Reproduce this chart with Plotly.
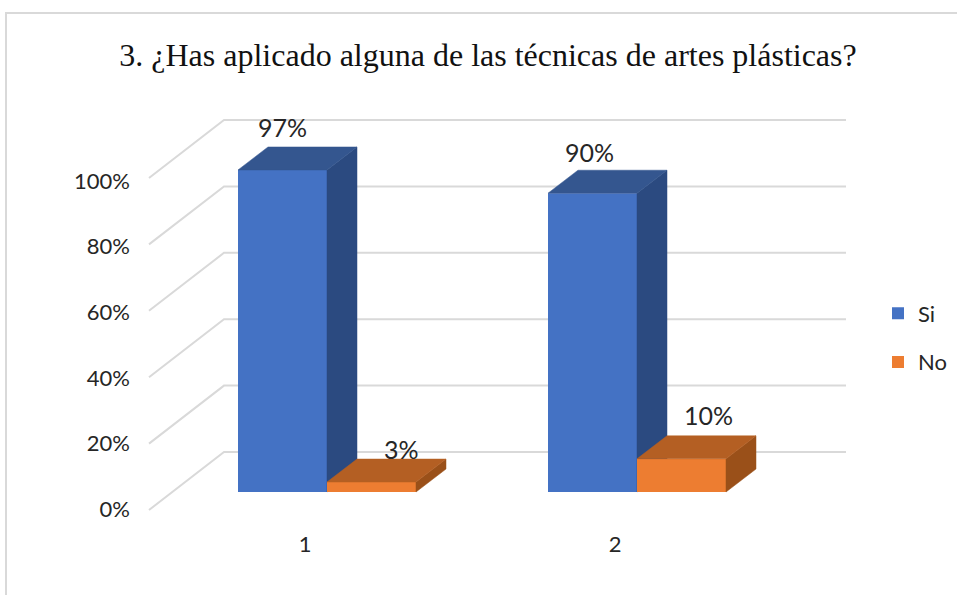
import plotly.graph_objects as go

TITLE = "3. ¿Has aplicado alguna de las técnicas de artes plásticas?"
categories = [1, 2]
si_values = [97, 90]
no_values = [3, 10]
y_ticks = [0, 20, 40, 60, 80, 100]

WIDTH, HEIGHT = 957, 595
PX_PER_CAT = 310
PX_PER_PCT = 3.32
AXIS_LEFT = 131
AXIS_BOTTOM = 525

BAR_W = 89 / PX_PER_CAT
DEPTH_X = 30 / PX_PER_CAT
DEPTH_Y = 23 / PX_PER_PCT

GRID = "#D9D9D9"
TEXT = "#262626"
BAR_FONT = "Lato"


def px_x(px):
    return 1 + (px - 327) / PX_PER_CAT


def px_y(px):
    return (492 - px) / PX_PER_PCT


def faces(left, value):
    """top and side polygons of a bar whose front face starts at left"""
    right = left + BAR_W
    top_x = [left, right, right + DEPTH_X, left + DEPTH_X, left]
    top_y = [value, value, value + DEPTH_Y, value + DEPTH_Y, value]
    side_x = [right, right + DEPTH_X, right + DEPTH_X, right, right]
    side_y = [0, DEPTH_Y, value + DEPTH_Y, value, 0]
    return (top_x, top_y), (side_x, side_y)


def add_series(fig, name, values, offset, front, top, side, yaxis):
    fig.add_trace(go.Bar(
        x=categories, y=values, width=BAR_W, offset=offset, name=name,
        legendgroup=name, marker=dict(color=front, line=dict(width=0)),
        xaxis="x2", yaxis=yaxis,
    ))
    for cat, value in zip(categories, values):
        top_face, side_face = faces(cat + offset, value)
        for (xs, ys), color in ((side_face, side), (top_face, top)):
            fig.add_trace(go.Scatter(
                x=xs, y=ys, mode="lines", fill="toself", fillcolor=color,
                line=dict(color=color, width=0.5), showlegend=False,
                hoverinfo="skip", xaxis="x2", yaxis=yaxis,
            ))


fig = go.Figure()

# base subplot only carries the tick labels, they sit on the front edge of the floor
fig.add_trace(go.Scatter(x=categories, y=[None, None], showlegend=False, hoverinfo="skip"))

# side wall + back wall gridlines
wall_x, wall_y = [], []
for tick in y_ticks:
    wall_x += [px_x(149), px_x(224), px_x(846), None]
    wall_y += [tick + px_y(510), tick + px_y(452), tick + px_y(452), None]
fig.add_trace(go.Scatter(
    x=wall_x, y=wall_y, mode="lines", line=dict(color=GRID, width=2),
    showlegend=False, hoverinfo="skip", xaxis="x2", yaxis="y2",
))

add_series(fig, "Si", si_values, -BAR_W, "#4472C4", "#34568F", "#2B4A80", "y3")
add_series(fig, "No", no_values, 0, "#ED7D31", "#B45F23", "#9A5019", "y4")

annotations = []
for values, shifts, yaxis in (
    (si_values, [(0, 43), (-3, 41)], "y3"),
    (no_values, [(30, 33), (27, 44)], "y4"),
):
    side = -BAR_W / 2 if yaxis == "y3" else BAR_W / 2
    for cat, value, (dx, dy) in zip(categories, values, shifts):
        annotations.append(dict(
            x=cat + side, y=value, xref="x2", yref=yaxis, text=f"{value}%",
            showarrow=False, xshift=dx, yshift=dy,
            font=dict(family=BAR_FONT, size=25, color=TEXT),
        ))

hidden = dict(visible=False, fixedrange=True)
x_domain = [AXIS_LEFT / WIDTH, 1]
y_domain = [(HEIGHT - AXIS_BOTTOM) / HEIGHT, 1]
x_range = [px_x(AXIS_LEFT), px_x(WIDTH)]
y_range = [px_y(AXIS_BOTTOM), px_y(0)]

fig.update_layout(
    width=WIDTH,
    height=HEIGHT,
    margin=dict(l=0, r=0, t=0, b=0),
    paper_bgcolor="white",
    plot_bgcolor="rgba(0,0,0,0)",
    title=dict(
        text=TITLE, x=488 / WIDTH, xanchor="center", y=1 - 55 / HEIGHT, yanchor="middle",
        font=dict(family="Liberation Serif", size=32, color="#111111"),
    ),
    # same scale as the drawing, moved 22 px to the left for the category labels
    xaxis=dict(
        domain=x_domain, range=[px_x(AXIS_LEFT + 22), px_x(WIDTH + 22)],
        tickvals=categories, ticktext=[str(c) for c in categories],
        showgrid=False, zeroline=False, showline=False, ticks="",
        ticklabelstandoff=4, tickfont=dict(family=BAR_FONT, size=22, color=TEXT),
    ),
    yaxis=dict(
        domain=y_domain, range=[(509 - AXIS_BOTTOM) / 3.28, 509 / 3.28],
        tickvals=y_ticks, ticktext=[f"{t}%" for t in y_ticks],
        showgrid=False, zeroline=False, showline=False, ticks="",
        tickfont=dict(family=BAR_FONT, size=22, color=TEXT),
    ),
    xaxis2=dict(domain=x_domain, range=x_range, overlaying="x", **hidden),
    yaxis2=dict(domain=y_domain, range=y_range, overlaying="y", **hidden),
    yaxis3=dict(domain=y_domain, range=y_range, overlaying="y", **hidden),
    yaxis4=dict(domain=y_domain, range=y_range, overlaying="y", **hidden),
    legend=dict(
        x=878 / WIDTH, y=1 - 338 / HEIGHT, xanchor="left", yanchor="middle",
        font=dict(family=BAR_FONT, size=22, color=TEXT),
        tracegroupgap=17, traceorder="grouped", itemwidth=30,
        bgcolor="rgba(0,0,0,0)",
    ),
    annotations=annotations,
    shapes=[dict(
        type="rect", xref="paper", yref="paper", x0=6 / WIDTH, x1=1.01,
        y0=-0.01, y1=1 - 13 / HEIGHT, line=dict(color=GRID, width=2), layer="below",
    )],
)

fig.write_html(
    "out.html",
    config=dict(displayModeBar=False),
    post_script="document.body.style.margin='0';",
)
